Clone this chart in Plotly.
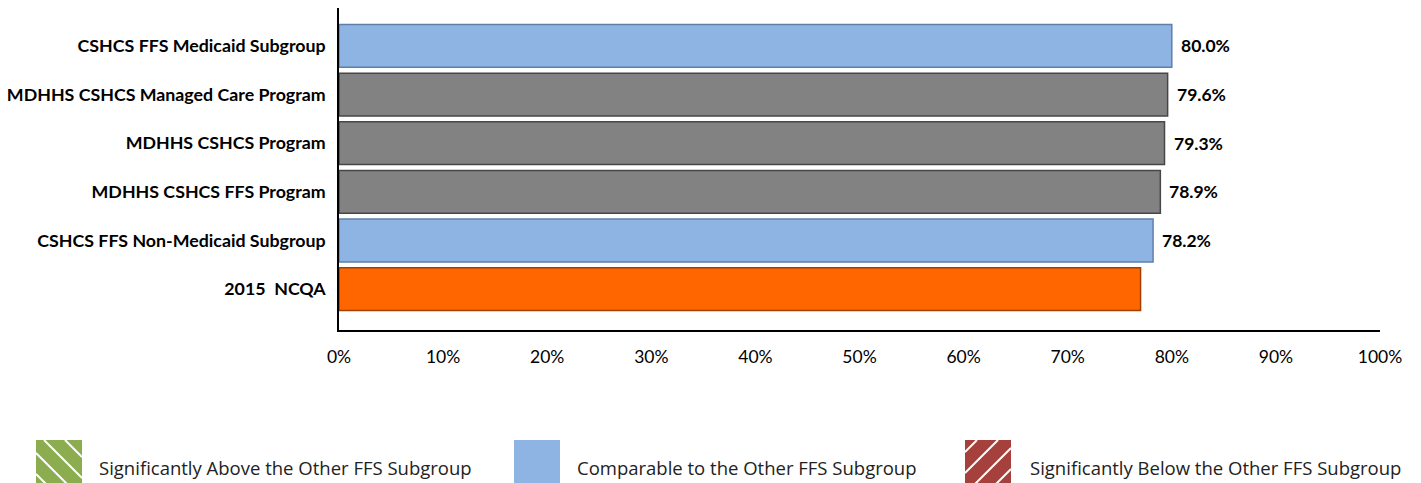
import plotly.graph_objects as go

categories = [
    "CSHCS FFS Medicaid Subgroup",
    "MDHHS CSHCS Managed Care Program",
    "MDHHS CSHCS Program",
    "MDHHS CSHCS FFS Program",
    "CSHCS FFS Non-Medicaid Subgroup",
    "2015\u00a0\u00a0NCQA",
]
values = [80.0, 79.6, 79.3, 78.9, 78.2, 77.0]
value_labels = ["80.0%", "79.6%", "79.3%", "78.9%", "78.2%", ""]
bar_colors = ["#8DB4E2", "#828282", "#828282", "#828282", "#8DB4E2", "#FF6600"]
bar_edges = ["#5F7FA8", "#474747", "#474747", "#474747", "#5F7FA8", "#A04000"]
x_ticks = [0, 10, 20, 30, 40, 50, 60, 70, 80, 90, 100]
legend_items = [
    "Significantly Above the Other FFS Subgroup",
    "Comparable to the Other FFS Subgroup",
    "Significantly Below the Other FFS Subgroup",
]

W, H = 1421, 483
x0_px, x1_px = 339, 1380
y_top_px, y_bot_px = 8, 330

fig = go.Figure()
fig.add_trace(go.Bar(
    y=categories, x=values, orientation="h",
    marker=dict(color=bar_colors, line=dict(color=bar_edges, width=1.5)),
    width=0.88, showlegend=False, hoverinfo="skip",
))

for cat, v, lab in zip(categories, values, value_labels):
    if lab:
        fig.add_annotation(x=v, y=cat, xref="x", yref="y", text=lab,
                           xanchor="left", yanchor="middle", xshift=7, showarrow=False,
                           font=dict(family="Lato", size=17.5, color="#000000", weight="bold"))

fig.update_layout(
    width=W, height=H,
    margin=dict(l=0, r=0, t=0, b=0),
    paper_bgcolor="white", plot_bgcolor="white",
    showlegend=False,
    xaxis=dict(
        domain=[x0_px / W, x1_px / W], range=[0, 100],
        tickvals=x_ticks, ticktext=[f"{v}%" for v in x_ticks],
        showgrid=False, zeroline=False,
        showline=True, linecolor="#000000", linewidth=1.5,
        ticks="", ticklabelstandoff=10,
        tickfont=dict(family="Lato", size=17.5, color="#000000"),
        automargin=False,
    ),
    yaxis=dict(
        domain=[1 - y_bot_px / H, 1 - y_top_px / H],
        categoryorder="array", categoryarray=categories,
        range=[5.84, -0.78],
        showgrid=False, zeroline=False,
        showline=True, linecolor="#000000", linewidth=1.5,
        ticks="", ticklabelstandoff=8,
        tickfont=dict(family="Lato", size=17.8, color="#000000", weight="bold"),
        automargin=False,
    ),
)

# Legend (bottom): coloured squares with hatch lines, plus labels
legend_boxes = [(36, "#8BAD4F", "\\"), (514, "#8DB4E2", None), (965, "#A5403C", "/")]
text_x = [97, 575, 1028]
sy0, size = 440, 46
shapes = []
for (bx, col, hatch) in legend_boxes:
    shapes.append(dict(type="rect", xref="paper", yref="paper",
                       x0=bx / W, x1=(bx + size) / W,
                       y0=1 - (sy0 + size) / H, y1=1 - sy0 / H,
                       fillcolor=col, line=dict(width=0), layer="above"))
    if hatch:
        for c in [-34, -13, 8, 29]:
            pts = []
            for t in range(0, size + 1):
                if hatch == "\\":
                    lx, ly = t, t - c
                else:
                    lx, ly = t, size - (t - c)
                if 0 <= lx <= size and 0 <= ly <= size:
                    pts.append((lx, ly))
            if len(pts) >= 2:
                (ax, ay), (bx2, by2) = pts[0], pts[-1]
                shapes.append(dict(type="line", xref="paper", yref="paper",
                                   x0=(bx + ax) / W, y0=1 - (sy0 + ay) / H,
                                   x1=(bx + bx2) / W, y1=1 - (sy0 + by2) / H,
                                   line=dict(color="white", width=2), layer="above"))
fig.update_layout(shapes=shapes)

for tx, label in zip(text_x, legend_items):
    fig.add_annotation(xref="paper", yref="paper", x=tx / W, y=1 - 467 / H,
                       xanchor="left", yanchor="middle", showarrow=False,
                       text=label, font=dict(family="Open Sans", size=18.5, color="#222222"))

fig.write_html("out.html")
